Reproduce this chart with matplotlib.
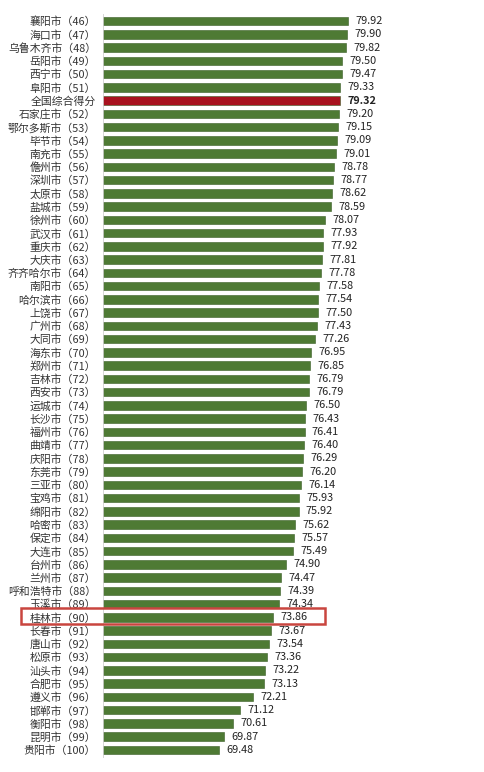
import numpy as np
import matplotlib
matplotlib.use('Agg')
import matplotlib.pyplot as plt
from matplotlib.patches import Rectangle

plt.rcParams['font.family'] = ['Noto Sans CJK SC', 'DejaVu Sans']

cities = ['襄阳市', '海口市', '乌鲁木齐市', '岳阳市', '西宁市', '阜阳市', '全国综合得分',
          '石家庄市', '鄂尔多斯市', '毕节市', '南充市', '儋州市', '深圳市', '太原市',
          '盐城市', '徐州市', '武汉市', '重庆市', '大庆市', '齐齐哈尔市', '南阳市',
          '哈尔滨市', '上饶市', '广州市', '大同市', '海东市', '郑州市', '吉林市',
          '西安市', '运城市', '长沙市', '福州市', '曲靖市', '庆阳市', '东莞市',
          '三亚市', '宝鸡市', '绵阳市', '哈密市', '保定市', '大连市', '台州市',
          '兰州市', '呼和浩特市', '玉溪市', '桂林市', '长春市', '唐山市', '松原市',
          '汕头市', '合肥市', '遵义市', '邯郸市', '衡阳市', '昆明市', '贵阳市']
ranks = [46, 47, 48, 49, 50, 51, None] + list(range(52, 101))
scores = [79.92, 79.90, 79.82, 79.50, 79.47, 79.33, 79.32, 79.20, 79.15, 79.09,
          79.01, 78.78, 78.77, 78.62, 78.59, 78.07, 77.93, 77.92, 77.81, 77.78,
          77.58, 77.54, 77.50, 77.43, 77.26, 76.95, 76.85, 76.79, 76.79, 76.50,
          76.43, 76.41, 76.40, 76.29, 76.20, 76.14, 75.93, 75.92, 75.62, 75.57,
          75.49, 74.90, 74.47, 74.39, 74.34, 73.86, 73.67, 73.54, 73.36, 73.22,
          73.13, 72.21, 71.12, 70.61, 69.87, 69.48]
national_label = '全国综合得分'
highlight_city = '桂林市'

labels = [c if r is None else f'{c}（{r}）' for c, r in zip(cities, ranks)]
colors = ['#a8121e' if c == national_label else '#4e7a34' for c in cities]

fig = plt.figure(figsize=(4.85, 7.72), dpi=100)
ax = fig.add_axes([0.2124, 0.020, 0.557, 0.9613])

y = np.arange(len(cities))
ax.barh(y, scores, height=0.64, left=0, color=colors, edgecolor='#3a5e25', linewidth=0.4)
ax.set_xlim(60, 82)
ax.set_ylim(len(cities) - 0.5, -0.5)

for yi, s, c in zip(y, scores, cities):
    bold = c == national_label
    ax.text(s + 0.6, yi, f'{s:.2f}', va='center', ha='left', fontsize=7.8,
            color='#222222', fontweight='bold' if bold else 'normal')

ax.set_yticks(y)
ax.set_yticklabels(labels, fontsize=7.8, color='#333333')
ax.tick_params(axis='y', length=0, pad=5)
ax.set_xticks([])
for side in ['top', 'right', 'bottom']:
    ax.spines[side].set_visible(False)
ax.spines['left'].set_color('#d0d0d0')
ax.spines['left'].set_linewidth(0.6)

# red highlight box around the 桂林市 row
box = Rectangle((0.043, 1 - 624 / 772), 0.627, 16 / 772, transform=fig.transFigure,
                fill=False, edgecolor='#c9453f', linewidth=1.8, clip_on=False)
fig.patches.append(box)

plt.savefig('out.png', dpi=100)
plt.close()
